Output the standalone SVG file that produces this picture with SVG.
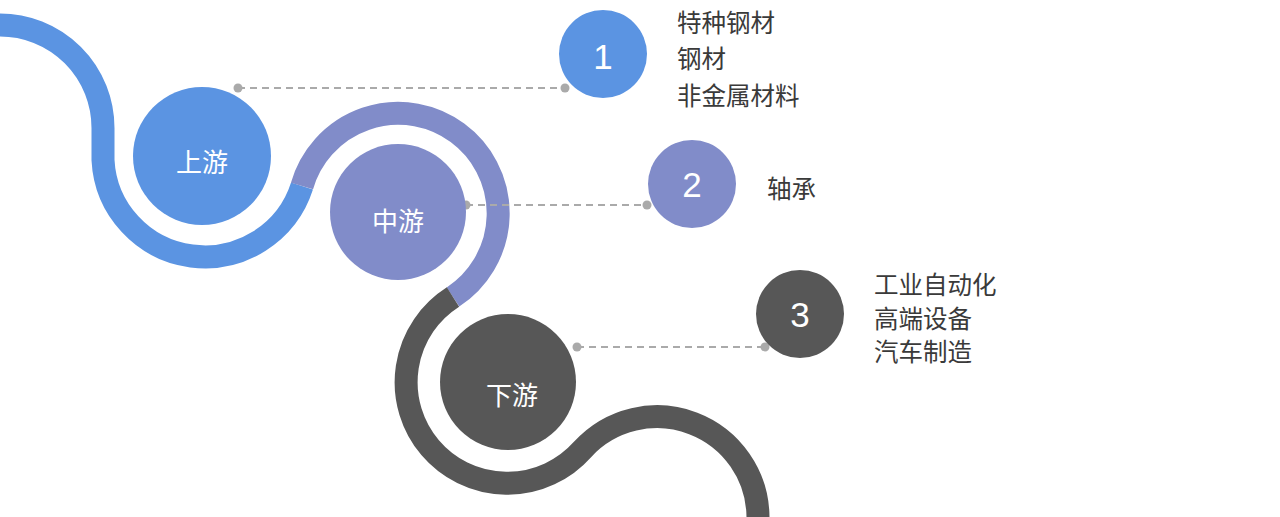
<svg xmlns="http://www.w3.org/2000/svg" width="1280" height="517" viewBox="0 0 1280 517">
<style>
.track{fill:none;stroke-width:23}
.dash{stroke:#aaaaaa;stroke-width:2;stroke-dasharray:7 5;fill:none}
.dot{fill:#aaaaaa}
.lbl{font-family:"Noto Sans CJK SC","Noto Sans",sans-serif;font-size:26px;fill:#ffffff;text-anchor:middle;dominant-baseline:central}
.num{font-family:"Liberation Sans",Arial,sans-serif;font-size:35px;fill:#ffffff;text-anchor:middle;dominant-baseline:central}
.item{font-family:"Noto Sans CJK SC","Noto Sans",sans-serif;font-size:24.5px;fill:#3a3a3a;dominant-baseline:central}
</style>
<rect width="1280" height="517" fill="#ffffff"/>
<g id="track">
<path class="track" stroke="#5B94E2" d="M-5 25 L0 25 A103 103 0 0 1 103 128 L103 160 A102 102 0 0 0 302 186"/>
<path class="track" stroke="#818CC9" d="M302 186 A100 100 0 1 1 453 297"/>
<path class="track" stroke="#575757" d="M453 297 A101 101 0 1 0 582.5 449.5 A101 101 0 0 1 758 517 L758 530"/>
</g>
<g id="connectors">
<line class="dash" x1="238" y1="88" x2="565" y2="88"/>
<circle class="dot" cx="238" cy="88" r="4.5"/>
<circle class="dot" cx="565" cy="88" r="4.5"/>
<line class="dash" x1="466" y1="205" x2="647" y2="205"/>
<circle class="dot" cx="466" cy="205" r="4.5"/>
<circle class="dot" cx="647" cy="205" r="4.5"/>
<line class="dash" x1="577" y1="347" x2="765" y2="347"/>
<circle class="dot" cx="577" cy="347" r="4.5"/>
<circle class="dot" cx="765" cy="347" r="4.5"/>
</g>
<g id="upstream">
<circle cx="202" cy="156" r="69" fill="#5B94E2"/>
<text class="lbl" x="202" y="160">上游</text>
</g>
<g id="midstream">
<circle cx="398" cy="212" r="68" fill="#818CC9"/>
<text class="lbl" x="398" y="219">中游</text>
</g>
<g id="downstream">
<circle cx="508" cy="382" r="68" fill="#575757"/>
<text class="lbl" x="512" y="393">下游</text>
</g>
<g id="n1">
<circle cx="603" cy="54" r="44" fill="#5B94E2"/>
<text class="num" x="603" y="56">1</text>
</g>
<g id="n2">
<circle cx="692" cy="184" r="44" fill="#818CC9"/>
<text class="num" x="692" y="184">2</text>
</g>
<g id="n3">
<circle cx="800" cy="314" r="44" fill="#575757"/>
<text class="num" x="800" y="314">3</text>
</g>
<g id="list1">
<text class="item" x="677" y="21">特种钢材</text>
<text class="item" x="677" y="57">钢材</text>
<text class="item" x="677" y="94">非金属材料</text>
</g>
<g id="list2">
<text class="item" x="767" y="187">轴承</text>
</g>
<g id="list3">
<text class="item" x="874" y="283">工业自动化</text>
<text class="item" x="874" y="317">高端设备</text>
<text class="item" x="874" y="350">汽车制造</text>
</g>
</svg>
